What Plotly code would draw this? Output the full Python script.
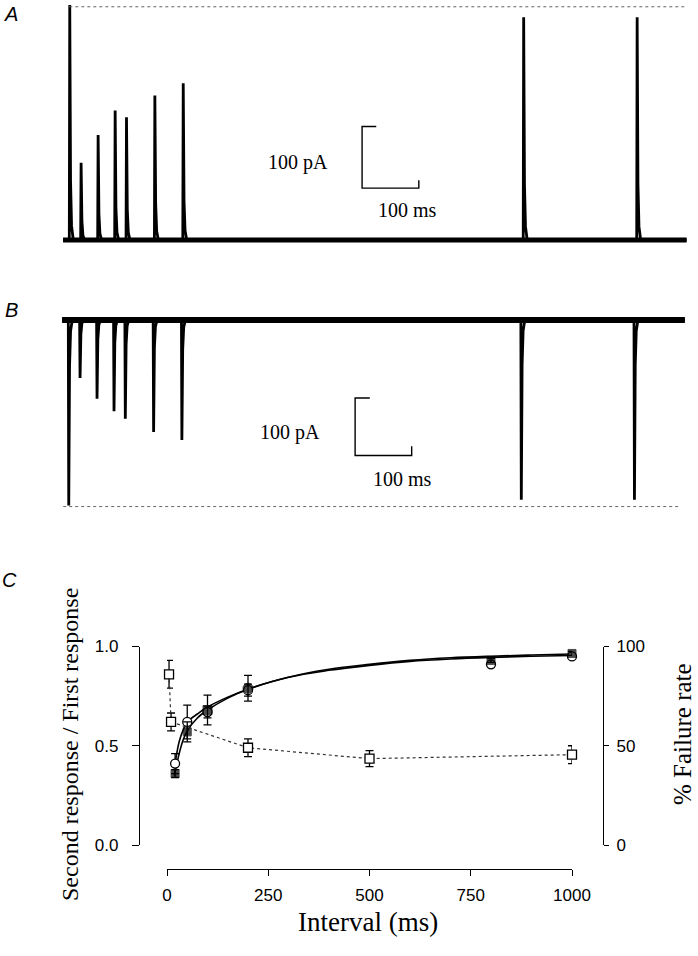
import plotly.graph_objects as go

W, H = 698, 956
SERIF = "Liberation Serif"
SANS = "Liberation Sans"

# ---------------- data ----------------
# Panel A/B: paired-pulse sweeps, second-pulse intervals (ms) and peak amplitudes (pA)
spike_times = [0, 20, 50, 80, 100, 150, 200, 800, 1000]
amps_A = [381, 125, 170, 210, 199, 234, 254, 361, 361]       # outward (up)
amps_B = [-323, -101, -137, -159, -172, -195, -209, -313, -313]  # inward (down)
sweep_end_A = 1088
sweep_end_B = 1090
scale_t = 100    # ms
scale_i = 100    # pA

# Panel C
ratio_x = [20, 50, 100, 200, 800, 1000]
ratio_open = [0.41, 0.62, 0.67, 0.78, 0.91, 0.95]
ratio_open_err = [0.05, 0.085, 0.03, 0.03, 0.01, 0.01]
ratio_filled = [0.36, 0.57, 0.68, 0.79, 0.93, 0.965]
ratio_filled_err = [0.02, 0.05, 0.075, 0.065, 0.01, 0.01]

fail_x = [5, 10, 200, 500, 1000]
fail_y = [86, 62, 49, 43.5, 45.5]
fail_err = [7, 4.5, 4.5, 4, 4.5]

fit1_x = [20, 30, 40, 50, 75, 100, 150, 200, 300, 400, 500, 600, 700, 800, 900, 1000]
fit1_y = [0.41, 0.52, 0.58, 0.62, 0.66, 0.695, 0.745, 0.785, 0.845, 0.88, 0.905, 0.925, 0.937, 0.945, 0.951, 0.955]
fit2_x = [18, 30, 40, 50, 75, 100, 150, 200, 300, 400, 500, 600, 700, 800, 900, 1000]
fit2_y = [0.35, 0.46, 0.53, 0.575, 0.64, 0.68, 0.74, 0.785, 0.845, 0.885, 0.91, 0.93, 0.943, 0.951, 0.957, 0.962]

x_ticks = [0, 250, 500, 750, 1000]
yl_ticks = [0, 0.5, 1.0]
yl_text = ["0.0", "0.5", "1.0"]
yr_ticks = [0, 50, 100]


# ---------------- helpers ----------------
def lin(p0, v0, p1, v1, q):
    return v0 + (q - p0) * (v1 - v0) / (p1 - p0)


def xdom(pa, pb):
    return [pa / W, pb / W]


def ydom(pa, pb):
    return [1 - pb / H, 1 - pa / H]


def xr(p0, v0, p1, v1, pa, pb):
    return [lin(p0, v0, p1, v1, pa), lin(p0, v0, p1, v1, pb)]


def yr(p0, v0, p1, v1, pa, pb):
    return [lin(p0, v0, p1, v1, pb), lin(p0, v0, p1, v1, pa)]


def sweep(times, amps, t_start, t_end):
    xs, ys = [t_start], [0]
    for t, a in zip(times, amps):
        xs += [t, t + 0.8, t + 2.2, t + 4, t + 7]
        ys += [0, a, a * 0.25, a * 0.06, 0]
    xs.append(t_end)
    ys.append(0)
    return xs, ys


fig = go.Figure()

# ---------------- Panel A ----------------
xa, ya = sweep(spike_times, amps_A, -11, sweep_end_A)
fig.add_trace(go.Scatter(x=[-11, sweep_end_A], y=[0, 0], mode="lines",
                         line=dict(color="black", width=5), xaxis="x", yaxis="y",
                         hoverinfo="skip"))
fig.add_trace(go.Scatter(x=xa, y=ya, mode="lines", line=dict(color="black", width=2.8),
                         xaxis="x", yaxis="y", hoverinfo="skip"))
fig.add_trace(go.Scatter(x=[0, sweep_end_A], y=[amps_A[0] - 3, amps_A[0] - 3], mode="lines",
                         line=dict(color="#666", width=1, dash="dot"), xaxis="x", yaxis="y"))
# scale bar A
sbx, sby = 516, 84
fig.add_trace(go.Scatter(
    x=[sbx + 25, sbx, sbx, sbx + scale_t, sbx + scale_t],
    y=[sby + scale_i, sby + scale_i, sby, sby, sby + 13],
    mode="lines", line=dict(color="black", width=1.4), xaxis="x", yaxis="y"))

# ---------------- Panel B ----------------
xb, yb = sweep(spike_times, amps_B, -11, sweep_end_B)
fig.add_trace(go.Scatter(x=[-11, sweep_end_B], y=[0, 0], mode="lines",
                         line=dict(color="black", width=6), xaxis="x2", yaxis="y2"))
fig.add_trace(go.Scatter(x=xb, y=yb, mode="lines", line=dict(color="black", width=2.8),
                         xaxis="x2", yaxis="y2"))
fig.add_trace(go.Scatter(x=[-9, sweep_end_B - 12], y=[amps_B[0] - 2, amps_B[0] - 2], mode="lines",
                         line=dict(color="#666", width=1, dash="dot"), xaxis="x2", yaxis="y2"))
sbx2, sby2 = 507, -236
fig.add_trace(go.Scatter(
    x=[sbx2 + 26, sbx2, sbx2, sbx2 + scale_t, sbx2 + scale_t],
    y=[sby2 + scale_i, sby2 + scale_i, sby2, sby2, sby2 + 16],
    mode="lines", line=dict(color="black", width=1.4), xaxis="x2", yaxis="y2"))

# ---------------- Panel C ----------------
fig.add_trace(go.Scatter(x=fit1_x, y=fit1_y, mode="lines", line=dict(color="black", width=1.6, shape="spline"),
                         xaxis="x3", yaxis="y3", cliponaxis=False))
fig.add_trace(go.Scatter(x=fit2_x, y=fit2_y, mode="lines", line=dict(color="black", width=1.6, shape="spline"),
                         xaxis="x3", yaxis="y3", cliponaxis=False))
fig.add_trace(go.Scatter(
    x=fail_x, y=fail_y, mode="lines+markers", xaxis="x3", yaxis="y4", cliponaxis=False,
    line=dict(color="#333", width=1.2, dash="dot"),
    marker=dict(symbol="square", size=9, color="white", line=dict(color="black", width=1.3)),
    error_y=dict(type="data", array=fail_err, color="black", thickness=1.3, width=4)))
fig.add_trace(go.Scatter(
    x=ratio_x, y=ratio_open, mode="markers", xaxis="x3", yaxis="y3", cliponaxis=False,
    marker=dict(symbol="circle", size=9, color="white", line=dict(color="black", width=1.3)),
    error_y=dict(type="data", array=ratio_open_err, color="black", thickness=1.3, width=4)))
fig.add_trace(go.Scatter(
    x=ratio_x, y=ratio_filled, mode="markers", xaxis="x3", yaxis="y3", cliponaxis=False,
    marker=dict(symbol=["square", "square", "square", "circle", "square", "square"],
                size=[8, 8, 9, 10, 8, 8], color="black", line=dict(color="black", width=1)),
    error_y=dict(type="data", array=ratio_filled_err, color="black", thickness=1.3, width=4)))

# ---------------- layout ----------------
hidden = dict(visible=False, showgrid=False, zeroline=False, automargin=False)
ax_common = dict(showgrid=False, zeroline=False, showline=True, linecolor="black", linewidth=1.2,
                 ticks="outside", tickcolor="black", tickwidth=1.2, automargin=False,
                 tickfont=dict(family=SANS, size=17, color="black"))

# pixel scales: A 0.5674 px/ms, B 0.5657 px/ms
fig.update_layout(
    width=W, height=H, margin=dict(l=0, r=0, t=0, b=0, autoexpand=False),
    paper_bgcolor="white", plot_bgcolor="white", showlegend=False,
    xaxis=dict(hidden, domain=xdom(0, W), range=xr(69.3, 0, 636.7, 1000, 0, W)),
    yaxis=dict(hidden, domain=ydom(0, 262), range=yr(240, 0, 178.3, 100, 0, 262), anchor="x"),
    xaxis2=dict(hidden, domain=xdom(0, W), range=xr(68.3, 0, 634, 1000, 0, W), anchor="y2"),
    yaxis2=dict(hidden, domain=ydom(268, 540), range=yr(320, 0, 377.4, -100, 268, 540), anchor="x2"),
    xaxis3=dict(ax_common, domain=xdom(167, 572), range=[0, 1000], tickvals=x_ticks,
                anchor="free", position=1 - 869 / H, ticklen=6, ticklabelstandoff=4),
    yaxis3=dict(ax_common, domain=ydom(646.5, 845), range=[0, 1], tickvals=yl_ticks, ticktext=yl_text,
                anchor="free", position=139 / W, ticklen=7, ticklabelstandoff=10),
    yaxis4=dict(ax_common, domain=ydom(646.5, 845), range=[0, 100], tickvals=yr_ticks,
                overlaying="y3", side="right", anchor="free", position=603 / W,
                ticklen=5, ticklabelstandoff=4),
)

ann = []


def pann(text, px, py, size, family, angle=0, italic=False):
    ann.append(dict(text=("<i>%s</i>" % text) if italic else text, x=px / W, y=1 - py / H,
                    xref="paper", yref="paper", showarrow=False, textangle=angle,
                    font=dict(family=family, size=size, color="black"),
                    xanchor="center", yanchor="middle"))


pann("A", 11, 14, 20, SANS, italic=True)
pann("B", 11, 310, 20, SANS, italic=True)
pann("C", 9, 580, 20, SANS, italic=True)
pann("Second response / First response", 70, 745, 24, SERIF, angle=-90)
pann("% Failure rate", 682, 734, 25, SERIF, angle=-90)
pann("Interval (ms)", 368, 922, 27, SERIF)

ann.append(dict(text="100 pA", x=403, y=125, xref="x", yref="y", showarrow=False,
                font=dict(family=SERIF, size=20, color="black")))
ann.append(dict(text="100 ms", x=596, y=49, xref="x", yref="y", showarrow=False,
                font=dict(family=SERIF, size=20, color="black")))
ann.append(dict(text="100 pA", x=392, y=-196, xref="x2", yref="y2", showarrow=False,
                font=dict(family=SERIF, size=20, color="black")))
ann.append(dict(text="100 ms", x=590, y=-277, xref="x2", yref="y2", showarrow=False,
                font=dict(family=SERIF, size=20, color="black")))
fig.update_layout(annotations=ann)

fig.write_html("out.html", config={"displayModeBar": False},
               post_script="document.body.style.margin='0';document.body.style.overflow='hidden';")
